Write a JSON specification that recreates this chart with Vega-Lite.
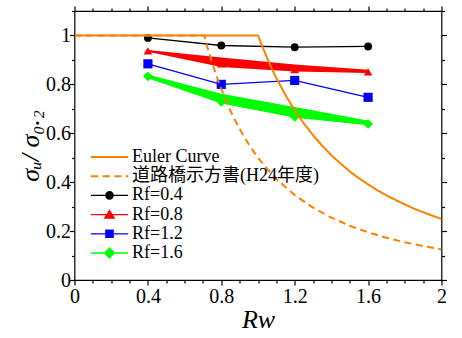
{
  "$schema": "https://vega.github.io/schema/vega-lite/v6.json",
  "width": 367,
  "height": 269,
  "autosize": {"type": "none"},
  "padding": {"left": 74.5, "top": 11, "right": 20.5, "bottom": 58},
  "datasets": {
    "curves": [
      {"series": "Euler Curve", "Rw": 0, "val": 1},
      {"series": "Euler Curve", "Rw": 1, "val": 1},
      {"series": "Euler Curve", "Rw": 1.025, "val": 0.952},
      {"series": "Euler Curve", "Rw": 1.05, "val": 0.907},
      {"series": "Euler Curve", "Rw": 1.075, "val": 0.865},
      {"series": "Euler Curve", "Rw": 1.1, "val": 0.826},
      {"series": "Euler Curve", "Rw": 1.15, "val": 0.756},
      {"series": "Euler Curve", "Rw": 1.2, "val": 0.694},
      {"series": "Euler Curve", "Rw": 1.25, "val": 0.64},
      {"series": "Euler Curve", "Rw": 1.3, "val": 0.592},
      {"series": "Euler Curve", "Rw": 1.35, "val": 0.549},
      {"series": "Euler Curve", "Rw": 1.4, "val": 0.51},
      {"series": "Euler Curve", "Rw": 1.45, "val": 0.476},
      {"series": "Euler Curve", "Rw": 1.5, "val": 0.444},
      {"series": "Euler Curve", "Rw": 1.55, "val": 0.416},
      {"series": "Euler Curve", "Rw": 1.6, "val": 0.391},
      {"series": "Euler Curve", "Rw": 1.65, "val": 0.367},
      {"series": "Euler Curve", "Rw": 1.7, "val": 0.346},
      {"series": "Euler Curve", "Rw": 1.75, "val": 0.327},
      {"series": "Euler Curve", "Rw": 1.8, "val": 0.309},
      {"series": "Euler Curve", "Rw": 1.85, "val": 0.292},
      {"series": "Euler Curve", "Rw": 1.9, "val": 0.277},
      {"series": "Euler Curve", "Rw": 1.95, "val": 0.263},
      {"series": "Euler Curve", "Rw": 2, "val": 0.25},
      {"series": "道路橋示方書(H24年度)", "Rw": 0, "val": 1},
      {"series": "道路橋示方書(H24年度)", "Rw": 0.707, "val": 1},
      {"series": "道路橋示方書(H24年度)", "Rw": 0.725, "val": 0.951},
      {"series": "道路橋示方書(H24年度)", "Rw": 0.75, "val": 0.889},
      {"series": "道路橋示方書(H24年度)", "Rw": 0.775, "val": 0.832},
      {"series": "道路橋示方書(H24年度)", "Rw": 0.8, "val": 0.781},
      {"series": "道路橋示方書(H24年度)", "Rw": 0.825, "val": 0.735},
      {"series": "道路橋示方書(H24年度)", "Rw": 0.85, "val": 0.692},
      {"series": "道路橋示方書(H24年度)", "Rw": 0.875, "val": 0.653},
      {"series": "道路橋示方書(H24年度)", "Rw": 0.9, "val": 0.617},
      {"series": "道路橋示方書(H24年度)", "Rw": 0.95, "val": 0.554},
      {"series": "道路橋示方書(H24年度)", "Rw": 1, "val": 0.5},
      {"series": "道路橋示方書(H24年度)", "Rw": 1.05, "val": 0.454},
      {"series": "道路橋示方書(H24年度)", "Rw": 1.1, "val": 0.413},
      {"series": "道路橋示方書(H24年度)", "Rw": 1.2, "val": 0.347},
      {"series": "道路橋示方書(H24年度)", "Rw": 1.3, "val": 0.296},
      {"series": "道路橋示方書(H24年度)", "Rw": 1.4, "val": 0.255},
      {"series": "道路橋示方書(H24年度)", "Rw": 1.5, "val": 0.222},
      {"series": "道路橋示方書(H24年度)", "Rw": 1.6, "val": 0.195},
      {"series": "道路橋示方書(H24年度)", "Rw": 1.7, "val": 0.173},
      {"series": "道路橋示方書(H24年度)", "Rw": 1.8, "val": 0.154},
      {"series": "道路橋示方書(H24年度)", "Rw": 1.9, "val": 0.139},
      {"series": "道路橋示方書(H24年度)", "Rw": 2, "val": 0.125}
    ],
    "bands": [
      {"series": "Rf=0.8", "Rw": 0.4, "lo": 0.933, "hi": 0.941},
      {"series": "Rf=0.8", "Rw": 0.8, "lo": 0.871, "hi": 0.91},
      {"series": "Rf=0.8", "Rw": 1.2, "lo": 0.853, "hi": 0.881},
      {"series": "Rf=0.8", "Rw": 1.6, "lo": 0.846, "hi": 0.86},
      {"series": "Rf=1.6", "Rw": 0.4, "lo": 0.825, "hi": 0.84},
      {"series": "Rf=1.6", "Rw": 0.8, "lo": 0.722, "hi": 0.762},
      {"series": "Rf=1.6", "Rw": 1.2, "lo": 0.665, "hi": 0.707},
      {"series": "Rf=1.6", "Rw": 1.6, "lo": 0.633, "hi": 0.652}
    ],
    "pts": [
      {"series": "Rf=0.4", "Rw": 0.4, "val": 0.99},
      {"series": "Rf=0.4", "Rw": 0.8, "val": 0.959},
      {"series": "Rf=0.4", "Rw": 1.2, "val": 0.952},
      {"series": "Rf=0.4", "Rw": 1.6, "val": 0.955},
      {"series": "Rf=0.8", "Rw": 0.4, "val": 0.937},
      {"series": "Rf=0.8", "Rw": 0.8, "val": 0.884},
      {"series": "Rf=0.8", "Rw": 1.2, "val": 0.861},
      {"series": "Rf=0.8", "Rw": 1.6, "val": 0.851},
      {"series": "Rf=1.2", "Rw": 0.4, "val": 0.884},
      {"series": "Rf=1.2", "Rw": 0.8, "val": 0.8},
      {"series": "Rf=1.2", "Rw": 1.2, "val": 0.816},
      {"series": "Rf=1.2", "Rw": 1.6, "val": 0.747},
      {"series": "Rf=1.6", "Rw": 0.4, "val": 0.833},
      {"series": "Rf=1.6", "Rw": 0.8, "val": 0.728},
      {"series": "Rf=1.6", "Rw": 1.2, "val": 0.667},
      {"series": "Rf=1.6", "Rw": 1.6, "val": 0.638}
    ]
  },
  "resolve": {"axis": {"x": "independent", "y": "independent"}},
  "layer": [
    {
      "data": {"name": "pts"},
      "mark": {"type": "point", "opacity": 0},
      "encoding": {
        "x": {"field": "Rw", "type": "quantitative", "scale": {"domain": [0, 2], "nice": false, "zero": false},
          "axis": {"orient": "bottom", "values": [0, 0.1, 0.2, 0.3, 0.4, 0.5, 0.6, 0.7, 0.8, 0.9, 1, 1.1, 1.2, 1.3, 1.4, 1.5, 1.6, 1.7, 1.8, 1.9, 2],
            "labelExpr": "round(datum.value*10)%4==0 ? format(datum.value, '~g') : ''", "zindex": 1,
            "tickSize": {"condition": {"test": "round(datum.value*10)%4==0", "value": 5}, "value": 3},
            "tickColor": "#000000", "tickWidth": 1.2, "tickOpacity": 1, "domainOpacity": 0, "gridOpacity": 0,
            "labelPadding": 1, "labelFlush": false, "labelOverlap": false,
            "labelFont": "Liberation Serif", "labelFontSize": 20, "labelColor": "black",
            "title": "Rw", "titleFont": "Liberation Serif", "titleFontSize": 26, "titleFontWeight": "normal", "titleFontStyle": "italic", "titleColor": "black", "titlePadding": 0}},
        "y": {"field": "val", "type": "quantitative", "scale": {"domain": [0, 1.1], "nice": false, "zero": false},
          "axis": {"orient": "left", "values": [0, 0.1, 0.2, 0.3, 0.4, 0.5, 0.6, 0.7, 0.8, 0.9, 1, 1.1],
            "labelExpr": "round(datum.value*10)%2==0 && datum.value < 1.05 ? format(datum.value, '~g') : ''", "zindex": 1,
            "tickSize": {"condition": {"test": "round(datum.value*10)%2==0", "value": 5}, "value": 3},
            "tickColor": "#000000", "tickWidth": 1.2, "tickOpacity": 1, "domainOpacity": 0, "gridOpacity": 0,
            "labelPadding": -1, "labelFlush": false, "labelOverlap": false,
            "labelFont": "Liberation Serif", "labelFontSize": 20, "labelColor": "black",
            "title": "σᵤ/ σ₀.₂", "titleFont": "Liberation Serif", "titleFontSize": 26, "titleFontWeight": "normal", "titleFontStyle": "italic", "titleColor": "black", "titlePadding": 2}}
      }
    },
    {
      "data": {"name": "pts"},
      "mark": {"type": "point", "opacity": 0},
      "encoding": {
        "x": {"field": "Rw", "type": "quantitative",
          "axis": {"orient": "top", "values": [0, 0.1, 0.2, 0.3, 0.4, 0.5, 0.6, 0.7, 0.8, 0.9, 1, 1.1, 1.2, 1.3, 1.4, 1.5, 1.6, 1.7, 1.8, 1.9, 2], "labels": false, "title": null, "zindex": 1,
            "tickSize": {"condition": {"test": "round(datum.value*10)%4==0", "value": 5}, "value": 3},
            "tickColor": "#000000", "tickWidth": 1.2, "tickOpacity": 1, "domainOpacity": 0, "gridOpacity": 0}},
        "y": {"field": "val", "type": "quantitative",
          "axis": {"orient": "right", "values": [0, 0.1, 0.2, 0.3, 0.4, 0.5, 0.6, 0.7, 0.8, 0.9, 1, 1.1], "labels": false, "title": null, "zindex": 1,
            "tickSize": {"condition": {"test": "round(datum.value*10)%2==0", "value": 5}, "value": 3},
            "tickColor": "#000000", "tickWidth": 1.2, "tickOpacity": 1, "domainOpacity": 0, "gridOpacity": 0}}
      }
    },
    {
      "data": {"name": "bands"},
      "mark": {"type": "area", "opacity": 1},
      "encoding": {
        "x": {"field": "Rw", "type": "quantitative", "axis": null},
        "y": {"field": "lo", "type": "quantitative", "axis": null},
        "y2": {"field": "hi"},
        "color": {"field": "series", "type": "nominal"}
      }
    },
    {
      "data": {"name": "pts"},
      "mark": {"type": "line", "strokeWidth": 1.3},
      "encoding": {
        "x": {"field": "Rw", "type": "quantitative", "axis": null},
        "y": {"field": "val", "type": "quantitative", "axis": null},
        "color": {"field": "series", "type": "nominal"}
      }
    },
    {
      "data": {"name": "pts"},
      "mark": {"type": "point", "filled": true, "opacity": 1, "strokeWidth": 0},
      "encoding": {
        "x": {"field": "Rw", "type": "quantitative", "axis": null},
        "y": {"field": "val", "type": "quantitative", "axis": null},
        "color": {"field": "series", "type": "nominal"},
        "shape": {"field": "series", "type": "nominal", "legend": null,
          "scale": {"domain": ["Rf=0.4", "Rf=0.8", "Rf=1.2", "Rf=1.6"], "range": ["circle", "triangle-up", "square", "diamond"]}},
        "size": {"field": "series", "type": "ordinal", "legend": null,
          "scale": {"domain": ["Rf=0.4", "Rf=0.8", "Rf=1.2", "Rf=1.6"], "range": [62, 95, 76, 150]}}
      }
    },
    {
      "data": {"name": "curves"},
      "mark": {"type": "line", "strokeWidth": 2, "clip": true},
      "encoding": {
        "x": {"field": "Rw", "type": "quantitative", "axis": null},
        "y": {"field": "val", "type": "quantitative", "axis": null},
        "color": {"field": "series", "type": "nominal",
          "scale": {"domain": ["Euler Curve", "道路橋示方書(H24年度)", "Rf=0.4", "Rf=0.8", "Rf=1.2", "Rf=1.6"],
            "range": ["#ff8000", "#ff8000", "#000000", "#ff0000", "#0000ff", "#00ff00"]},
          "legend": {
            "orient": "none", "legendX": 26, "legendY": 137, "title": null,
            "symbolSize": 144, "labelOffset": 13.5, "rowPadding": 1.2, "padding": 0,
            "labelFontSize": 18, "labelFont": "Liberation Serif, Noto Sans CJK JP", "labelColor": "black", "labelLimit": 400,
            "encode": {"symbols": {"update": {
              "shape": {"signal": "datum.value == 'Euler Curve' ? 'M-3.1,-0.17H3.1V0.17H-3.1Z' : datum.value == 'Rf=0.4' ? 'M-3.1,-0.11H3.1V0.11H-3.1Z M0.72,0A0.72,0.72,0,1,1,-0.72,0A0.72,0.72,0,1,1,0.72,0Z' : datum.value == 'Rf=0.8' ? 'M-3.1,-0.11H3.1V0.11H-3.1Z M0,-0.9L0.98,0.7L-0.98,0.7Z' : datum.value == 'Rf=1.2' ? 'M-3.1,-0.11H3.1V0.11H-3.1Z M-0.72,-0.72H0.72V0.72H-0.72Z' : datum.value == 'Rf=1.6' ? 'M-3.1,-0.11H3.1V0.11H-3.1Z M0,-1L0.95,0L0,1L-0.95,0Z' : 'M-3.1,-0.17H-1.9V0.17H-3.1Z M-1.15,-0.17H0.05V0.17H-1.15Z M0.8,-0.17H2.0V0.17H0.8Z M2.75,-0.17H3.1V0.17H2.75Z'"},
              "fill": {"signal": "scale('color', datum.value)"},
              "stroke": {"value": "transparent"},
              "strokeWidth": {"value": 0},
              "opacity": {"value": 1},
              "size": {"value": 144}
            }}}
          }},
        "strokeDash": {"field": "series", "type": "nominal", "legend": null,
          "scale": {"domain": ["Euler Curve", "道路橋示方書(H24年度)"], "range": [[1, 0], [7, 4.5]]}}
      }
    }
  ],
  "config": {
    "view": {"stroke": "black", "strokeWidth": 1.2}
  }
}
